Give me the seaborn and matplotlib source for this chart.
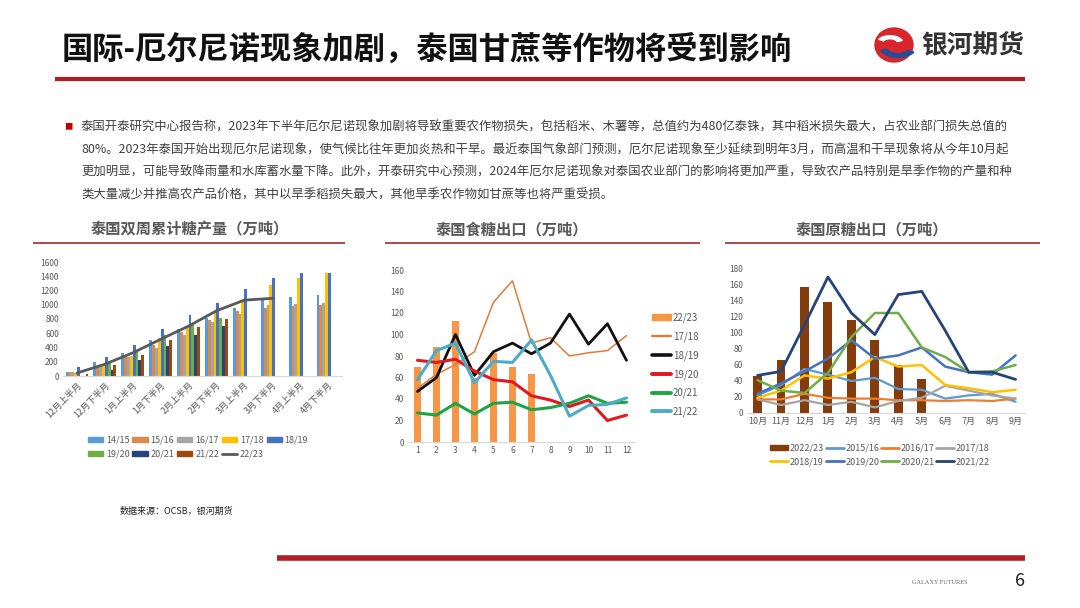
import numpy as np
import pandas as pd
import matplotlib
matplotlib.use("Agg")
import matplotlib.pyplot as plt
from matplotlib.lines import Line2D
from matplotlib.patches import Patch, Ellipse, Wedge
import seaborn as sns

sns.set_style("white")
plt.rcParams['font.family'] = ['Noto Sans CJK SC', 'DejaVu Sans']

# ---------- chart 1: biweekly cumulative sugar production ----------
periods = ['12月上半月', '12月下半月', '1月上半月', '1月下半月', '2月上半月',
           '2月下半月', '3月上半月', '3月下半月', '4月上半月', '4月下半月']
prod_1415 = [50, 190, 320, 500, 660, 810, 960, 1080, 1110, 1130]
prod_1516 = [50, 130, 270, 430, 620, 790, 910, 960, 980, 990]
prod_1617 = [60, 140, 260, 390, 570, 760, 870, 1000, 1010, 1020]
prod_1718 = [40, 150, 280, 540, 700, 900, 1040, 1280, 1370, 1440]
prod_1819 = [120, 270, 440, 660, 850, 1030, 1220, 1380, 1440, 1450]
prod_1920 = [np.nan, 200, 370, 580, 740, 820, np.nan, np.nan, np.nan, np.nan]
prod_2021 = [np.nan, 90, 220, 420, 580, 700, np.nan, np.nan, np.nan, np.nan]
prod_2122 = [25, 160, 300, 510, 690, 800, np.nan, np.nan, np.nan, np.nan]
prod_2223 = [42, 165, 325, 515, 700, 915, 1065, 1090]
prod_seasons = ['14/15', '15/16', '16/17', '17/18', '18/19', '19/20', '20/21', '21/22']
prod_colors = ['#5B9BD5', '#D98A50', '#A5A5A5', '#FFC000', '#4472C4',
               '#70AD47', '#264478', '#9E480E']

# ---------- chart 2: white sugar exports ----------
months_num = list(range(1, 13))
white_2223 = [70, 88, 113, 60, 83, 70, 63]
white_1718 = [50, 63, 72, 84, 130, 150, 92, 97, 80, 83, 85, 99]
white_1819 = [47, 60, 100, 62, 84, 92, 82, 92, 119, 91, 110, 76]
white_1920 = [76, 74, 77, 66, 58, 56, 43, 39, 33, 39, 20, 25]
white_2021 = [27, 25, 36, 26, 36, 37, 30, 32, 36, 43, 36, 37]
white_2122 = [58, 85, 92, 55, 75, 74, 95, 62, 24, 34, 35, 41]

# ---------- chart 3: raw sugar exports ----------
months_cn = ['10月', '11月', '12月', '1月', '2月', '3月', '4月', '5月', '6月', '7月', '8月', '9月']
raw_2223 = [46, 66, 158, 139, 116, 91, 60, 42]
raw_1516 = [22, 35, 55, 48, 40, 44, 30, 29, 18, 22, 24, 14]
raw_1617 = [17, 17, 24, 19, 18, 18, 16, 16, 15, 16, 15, 18]
raw_1718 = [17, 10, 16, 10, 14, 7, 15, 19, 34, 28, 22, 18]
raw_1819 = [19, 28, 47, 43, 51, 70, 58, 60, 35, 31, 26, 29]
raw_1920 = [24, 37, 52, 68, 91, 68, 72, 82, 58, 51, 48, 72]
raw_2021 = [41, 28, 25, 50, 95, 125, 125, 82, 70, 51, 52, 60]
raw_2122 = [47, 52, 110, 170, 125, 98, 148, 152, 103, 51, 51, 42]

W, H = 1080, 608
fig = plt.figure(figsize=(W / 100, H / 100), dpi=100)
fig.patch.set_facecolor('white')


def fx(x):
    return x / W


def fy(y):
    return 1 - y / H


def hline(x0, x1, y, color, lw):
    fig.add_artist(Line2D([fx(x0), fx(x1)], [fy(y), fy(y)], color=color, lw=lw,
                          transform=fig.transFigure, solid_capstyle='butt'))


def style_axis(ax, ymax, ystep):
    ax.set_ylim(0, ymax)
    ax.set_yticks(np.arange(0, ymax + 1, ystep))
    for s in ['top', 'right', 'left']:
        ax.spines[s].set_visible(False)
    ax.spines['bottom'].set_color('#D9D9D9')
    ax.tick_params(length=0, labelsize=6, colors='#595959', pad=3)
    ax.set_xlabel('')
    ax.set_ylabel('')
    ax.set_facecolor('none')


# ---------- header ----------
fig.text(fx(62), fy(50), '国际-厄尔尼诺现象加剧，泰国甘蔗等作物将受到影响',
         fontsize=22.5, fontweight='bold', color='#111111', va='center', ha='left')
hline(55, 1025, 79, '#B01E23', 3)
# logo
fig.add_artist(Ellipse((fx(894), fy(45)), 38 / W, 34 / H, color='#D8262C',
                       transform=fig.transFigure))
fig.add_artist(Wedge((fx(898), fy(47)), 0.017, 200, 330, width=0.006, color='#1F4E9C',
                     transform=fig.transFigure))
fig.add_artist(Wedge((fx(890), fy(43)), 0.012, 20, 150, width=0.005, color='white',
                     transform=fig.transFigure))
fig.text(fx(921), fy(45), '银河期货', fontsize=18.5, fontweight='bold', color='#333333',
         va='center', ha='left')

# ---------- paragraph ----------
para_lines = [
    '泰国开泰研究中心报告称，2023年下半年厄尔尼诺现象加剧将导致重要农作物损失，包括稻米、木薯等，总值约为480亿泰铢，其中稻米损失最大，占农业部门损失总值的',
    '80%。2023年泰国开始出现厄尔尼诺现象，使气候比往年更加炎热和干旱。最近泰国气象部门预测，厄尔尼诺现象至少延续到明年3月，而高温和干旱现象将从今年10月起',
    '更加明显，可能导致降雨量和水库蓄水量下降。此外，开泰研究中心预测，2024年厄尔尼诺现象对泰国农业部门的影响将更加严重，导致农产品特别是旱季作物的产量和种',
    '类大量减少并推高农产品价格，其中以旱季稻损失最大，其他旱季农作物如甘蔗等也将严重受损。',
]
fig.text(fx(64), fy(127), '■', fontsize=6, color='#C00000', va='center', ha='left')
for i, line in enumerate(para_lines):
    fig.text(fx(81), fy(127 + i * 22.7), line, fontsize=8.9, color='#404040',
             va='center', ha='left')

# ---------- chart titles ----------
titles = ['泰国双周累计糖产量（万吨）', '泰国食糖出口（万吨）', '泰国原糖出口（万吨）']
title_x = [190, 512, 872]
under = [(33, 345), (385, 700), (725, 1040)]
for t, x, (u0, u1) in zip(titles, title_x, under):
    fig.text(fx(x), fy(229), t, fontsize=11, fontweight='bold', color='#595959',
             ha='center', va='center')
    hline(u0, u1, 243, '#A93A3A', 1.3)

# ---------- chart 1 ----------
ax1 = fig.add_axes([fx(63), fy(376), (342 - 63) / W, (376 - 262) / H])
prod_lists = [prod_1415, prod_1516, prod_1617, prod_1718, prod_1819,
              prod_1920, prod_2021, prod_2122]
df1 = pd.DataFrame([
    {'period': p, 'season': s, 'value': v}
    for s, vals in zip(prod_seasons, prod_lists)
    for p, v in zip(periods, vals)
])
sns.barplot(data=df1, x='period', y='value', hue='season', order=periods,
            hue_order=prod_seasons, palette=prod_colors, saturation=1,
            errorbar=None, width=0.82, linewidth=0, ax=ax1, legend=False)
sns.lineplot(x=np.arange(len(prod_2223)), y=prod_2223, color='#595959', lw=2, ax=ax1)
style_axis(ax1, 1600, 200)
ax1.set_xlim(-0.5, len(periods) - 0.5)
ax1.set_xticks(range(len(periods)))
ax1.set_xticklabels(periods, rotation=45, ha='right', rotation_mode='anchor', fontsize=6.5)

h1 = [Patch(color=c) for c in prod_colors] + [Line2D([], [], color='#595959', lw=2)]
l1 = prod_seasons + ['22/23']
order1 = [0, 5, 1, 6, 2, 7, 3, 8, 4]
fig.legend([h1[i] for i in order1], [l1[i] for i in order1], loc='center',
           bbox_to_anchor=(fx(198), fy(447)), ncol=5, frameon=False, fontsize=6.5,
           handlelength=1.7, handleheight=0.5, columnspacing=0.3, handletextpad=0.3,
           labelspacing=0.55, labelcolor='#595959')

# ---------- chart 2 ----------
ax2 = fig.add_axes([fx(408), fy(442), (635 - 408) / W, (442 - 270) / H])
sns.barplot(x=months_num[:len(white_2223)], y=white_2223, native_scale=True, width=0.4,
            color='#F79646', saturation=1, errorbar=None, linewidth=0, ax=ax2)
white_series = [('17/18', white_1718, '#E07B39', 1.1),
                ('18/19', white_1819, '#111111', 2.0),
                ('19/20', white_1920, '#E0191F', 2.2),
                ('20/21', white_2021, '#1FA347', 2.2),
                ('21/22', white_2122, '#4BACC6', 2.2)]
for name, vals, c, w in white_series:
    sns.lineplot(x=months_num, y=vals, color=c, lw=w, ax=ax2)
style_axis(ax2, 160, 20)
ax2.set_xlim(0.5, 12.45)
ax2.set_xticks(months_num)
ax2.set_xticklabels([str(m) for m in months_num])
h2 = [Patch(color='#F79646')] + [Line2D([], [], color=c, lw=w + 0.6) for _, _, c, w in white_series]
l2 = ['22/23'] + [n for n, _, _, _ in white_series]
fig.legend(h2, l2, loc='upper left', bbox_to_anchor=(fx(643), fy(304)), frameon=False,
           fontsize=7, handlelength=2.0, handleheight=0.6, handletextpad=0.2,
           labelspacing=0.85, labelcolor='#595959')

# ---------- chart 3 ----------
ax3 = fig.add_axes([fx(747), fy(413), (1025 - 747) / W, (413 - 269) / H])
sns.barplot(x=months_cn[:len(raw_2223)], y=raw_2223, order=months_cn, width=0.38,
            color='#843C0C', saturation=1, errorbar=None, linewidth=0, ax=ax3)
raw_series = [('2015/16', raw_1516, '#5B9BD5', 1.6),
              ('2016/17', raw_1617, '#ED7D31', 1.6),
              ('2017/18', raw_1718, '#A5A5A5', 1.6),
              ('2018/19', raw_1819, '#FFC000', 1.8),
              ('2019/20', raw_1920, '#4472C4', 1.8),
              ('2020/21', raw_2021, '#70AD47', 1.8),
              ('2021/22', raw_2122, '#264478', 2.0)]
for name, vals, c, w in raw_series:
    sns.lineplot(x=np.arange(len(months_cn)), y=vals, color=c, lw=w, ax=ax3)
style_axis(ax3, 180, 20)
ax3.set_xlim(-0.45, 11.4)
ax3.set_xticks(range(len(months_cn)))
ax3.set_xticklabels(months_cn, fontsize=6.5)
h3 = [Patch(color='#843C0C')] + [Line2D([], [], color=c, lw=2) for _, _, c, _ in raw_series]
l3 = ['2022/23'] + [n for n, _, _, _ in raw_series]
order3 = [0, 4, 1, 5, 2, 6, 3, 7]
fig.legend([h3[i] for i in order3], [l3[i] for i in order3], loc='center',
           bbox_to_anchor=(fx(880), fy(455)), ncol=4, frameon=False, fontsize=6.5,
           handlelength=2.0, handleheight=0.5, columnspacing=0.2, handletextpad=0.15,
           labelspacing=0.5, labelcolor='#595959')

# ---------- footer ----------
fig.text(fx(120), fy(511), '数据来源：OCSB，银河期货', fontsize=6.5, color='#222222',
         va='center', ha='left')
hline(277, 1025, 558, '#B01E23', 4)
fig.text(fx(968), fy(582), 'GALAXY FUTURES', fontsize=4.5, color='#666666',
         family='Liberation Serif', va='center', ha='right')
fig.text(fx(1020), fy(581), '6', fontsize=13, color='#222222', va='center', ha='center')

fig.savefig('out.png', dpi=100, facecolor='white')
